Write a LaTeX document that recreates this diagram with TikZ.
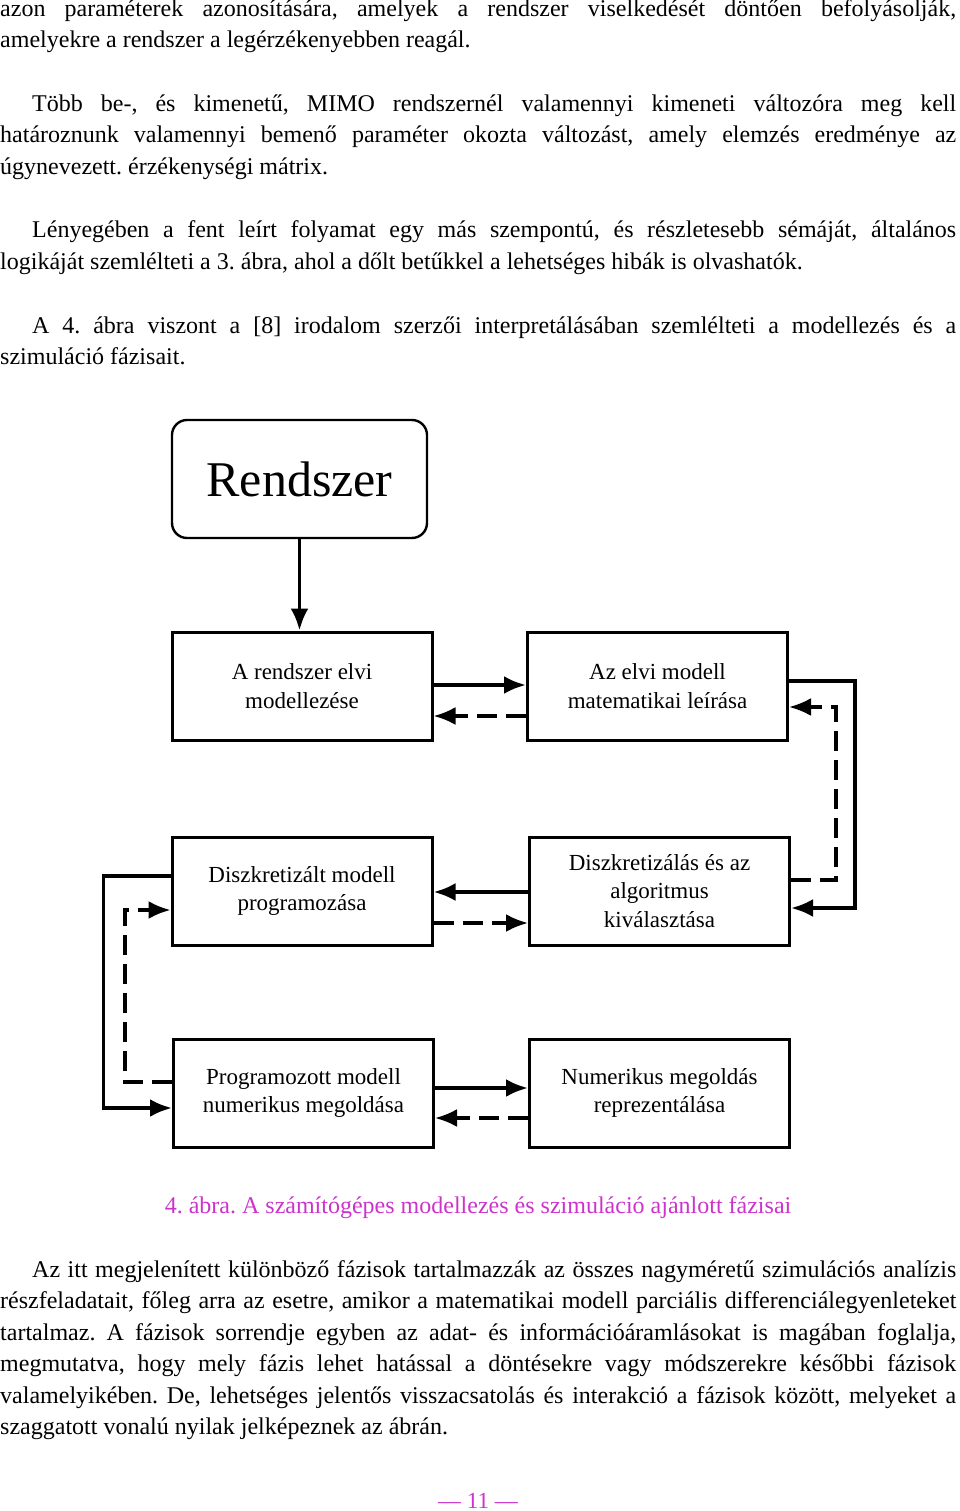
\documentclass[tikz,border=0pt]{standalone}
\usepackage{fontspec}
\setmainfont{Liberation Serif}
\usepackage{graphicx}
\usepackage{xcolor}
\usepackage{tikz}
\usetikzlibrary{positioning,calc,arrows.meta}

\definecolor{capmag}{RGB}{204,51,204}
\frenchspacing

% one justified line of body text
\newsavebox\jbox
\newcommand\jline[2]{\sbox\jbox{#2}\ifdim\wd\jbox>#1\relax\resizebox{#1}{\height}{#2}\else\makebox[#1][s]{#2}\fi}

\tikzset{
  txt/.style={anchor=base west, inner sep=0pt, font=\fontsize{24}{31.6}\selectfont},
  phase/.style={draw, line width=3pt, minimum width=260pt, minimum height=108pt,
                align=center, inner sep=0pt, font=\fontsize{23}{28.5}\selectfont},
  flow/.style={line width=3.8pt, -{Latex[length=22pt,width=18pt]}},
  back/.style={line width=3.2pt, dash pattern=on 20pt off 9pt, -{Latex[length=22pt,width=18pt]}},
}

\begin{document}
\begin{tikzpicture}[x=1pt,y=-1pt]
            \useasboundingbox (0,0) rectangle (960,1511);

            % Text above
            \node[txt] (p1a) at (0,16.5) {\jline{956pt}{azon paraméterek azonosítására, amelyek a rendszer viselkedését döntően befolyásolják,}};
            \node[txt] (p1b) at (0,48) {amelyekre a rendszer a legérzékenyebben reagál.};
            \node[txt] (p2a) at (32,111.5) {\jline{924pt}{Több be-, és kimenetű, MIMO rendszernél valamennyi kimeneti változóra meg kell}};
            \node[txt] (p2b) at (0,143) {\jline{956pt}{határoznunk valamennyi bemenő paraméter okozta változást, amely elemzés eredménye az}};
            \node[txt] (p2c) at (0,174.5) {úgynevezett. érzékenységi mátrix.};
            \node[txt] (p3a) at (32,238) {\jline{924pt}{Lényegében a fent leírt folyamat egy más szempontú, és részletesebb sémáját, általános}};
            \node[txt] (p3b) at (0,269.5) {logikáját szemlélteti a 3. ábra, ahol a dőlt betűkkel a lehetséges hibák is olvashatók.};
            \node[txt] (p4a) at (32,333) {\jline{924pt}{A 4. ábra viszont a [8] irodalom szerzői interpretálásában szemlélteti a modellezés és a}};
            \node[txt] (p4b) at (0,364.5) {szimuláció fázisait.};

            % Boxes
            \node[draw, line width=2.4pt, rounded corners=15pt, minimum width=255pt, minimum height=118pt,
                  inner sep=0pt, font=\fontsize{50}{55}\selectfont] (sys) at (299.5,479) {Rendszer};
            \node[phase] (b1) at (302,686) {A rendszer elvi\\modellezése};
            \node[phase] (b2) at (657.5,686) {Az elvi modell\\matematikai leírása};
            \node[phase] (b3) at (302,891) {Diszkretizált modell\\programozása};
            \node[phase] (b4) at (659.5,891) {Diszkretizálás és az\\algoritmus\\kiválasztása};
            \node[phase] (b5) at (303.5,1093) {Programozott modell\\numerikus megoldása};
            \node[phase] (b6) at (659.5,1093) {Numerikus megoldás\\reprezentálása};

            % Arrows
            \draw[flow] (sys.south) -- (sys.south |- b1.north);
            \draw[flow] ([yshift=1pt]b1.east) -- ([yshift=1pt]b1.east -| b2.west);
            \draw[back] ([yshift=-30pt]b2.west) -- ([yshift=-30pt]b2.west -| b1.east);
            \draw[flow] ([yshift=5pt]b2.east) -- ++(66,0) |- ([yshift=-17pt]b4.east);
            \draw[back] ([yshift=11pt]b4.east) -- ++(45,0) |- ([yshift=-21pt]b2.east);
            \draw[flow] ([yshift=-1pt]b4.west) -- ([yshift=-1pt]b4.west -| b3.east);
            \draw[back] ([yshift=-32pt]b3.east) -- ([yshift=-32pt]b3.east -| b4.west);
            \draw[flow] ([yshift=15pt]b3.west) -- ++(-67,0) |- ([yshift=-15pt]b5.west);
            \draw[back] ([yshift=11pt]b5.west) -- ++(-47,0) |- ([yshift=-19pt]b3.west);
            \draw[flow] ([yshift=5pt]b5.east) -- ([yshift=5pt]b5.east -| b6.west);
            \draw[back] ([yshift=-25pt]b6.west) -- ([yshift=-25pt]b6.west -| b5.east);

            % Caption
            \node[anchor=base, inner sep=0pt, text=capmag, font=\fontsize{24}{30}\selectfont] (cap) at (478,1213)
                {4. ábra. A számítógépes modellezés és szimuláció ajánlott fázisai};

            % Text below
            \node[txt] (p5a) at (32,1277) {\jline{924pt}{Az itt megjelenített különböző fázisok tartalmazzák az összes nagyméretű szimulációs analízis}};
            \node[txt] (p5b) at (0,1308.5) {\jline{956pt}{részfeladatait, főleg arra az esetre, amikor a matematikai modell parciális differenciálegyenleteket}};
            \node[txt] (p5c) at (0,1340) {\jline{956pt}{tartalmaz. A fázisok sorrendje egyben az adat- és információáramlásokat is magában foglalja,}};
            \node[txt] (p5d) at (0,1371.5) {\jline{956pt}{megmutatva, hogy mely fázis lehet hatással a döntésekre vagy módszerekre későbbi fázisok}};
            \node[txt] (p5e) at (0,1403) {\jline{956pt}{valamelyikében. De, lehetséges jelentős visszacsatolás és interakció a fázisok között, melyeket a}};
            \node[txt] (p5f) at (0,1434.5) {szaggatott vonalú nyilak jelképeznek az ábrán.};

            % Page number
            \node[anchor=base, inner sep=0pt, text=capmag, font=\fontsize{23}{28}\selectfont] (pg) at (478,1508) {— 11 —};
\end{tikzpicture}
\end{document}
